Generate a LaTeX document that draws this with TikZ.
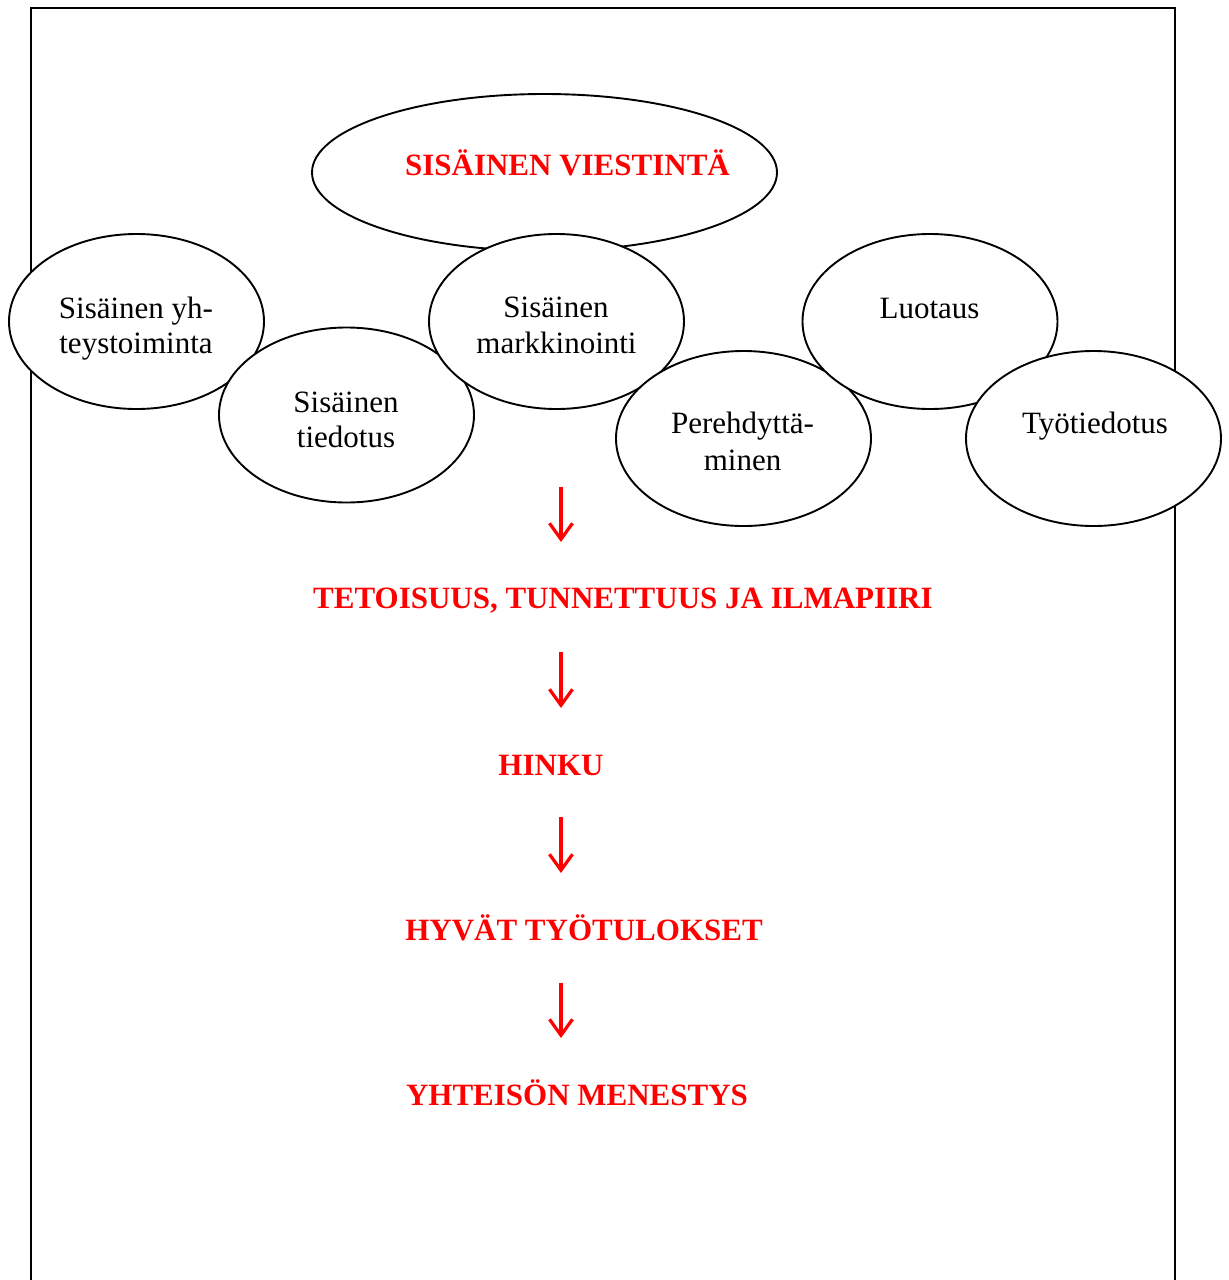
\documentclass[tikz,border=0pt]{standalone}
\usepackage{fontspec}
\setmainfont{Liberation Serif}
\usetikzlibrary{shapes.geometric,arrows.meta}
\definecolor{vred}{RGB}{255,0,0}
\begin{document}
\begin{tikzpicture}[x=1pt,y=-1pt,
  bubble/.style={ellipse, draw=black, fill=white, line width=1.9pt, inner sep=0pt},
  btxt/.style={anchor=base, font=\fontsize{31}{36}\selectfont, inner sep=0pt},
  rtxt/.style={anchor=base, text=vred, font=\fontsize{31}{36}\selectfont\bfseries, inner sep=0pt},
  flow/.style={draw=vred, line width=3.2pt, -{Straight Barb[length=16pt,width=23pt]}},
  frameline/.style={draw=black, line width=1.9pt}]
\useasboundingbox (0,0) rectangle (1229,1280);
% frame (open at the bottom edge of the picture)
\coordinate (fbl) at (31,1285);
\coordinate (ftl) at (31,8);
\coordinate (ftr) at (1175,8);
\coordinate (fbr) at (1175,1285);
\draw[frameline] (fbl) -- (ftl) -- (ftr) -- (fbr);
% bubbles
\node[bubble, minimum width=465pt, minimum height=157pt] (sv) at (544.5,172.5) {};
\node[bubble, minimum width=255pt, minimum height=175pt] (sy) at (136.5,321.5) {};
\node[bubble, minimum width=255pt, minimum height=175pt] (st) at (346.5,415) {};
\node[bubble, minimum width=255pt, minimum height=175pt] (sm) at (556.5,321.5) {};
\node[bubble, minimum width=255pt, minimum height=175pt] (pe) at (743.5,438.5) {};
\node[bubble, minimum width=255pt, minimum height=175pt] (lu) at (930,321.5) {};
\node[bubble, minimum width=255pt, minimum height=175pt] (ty) at (1093.5,438.5) {};
% bubble texts
\node[rtxt] (svt) at (567.5,175) {SISÄINEN VIESTINTÄ};
\node[btxt] (sy1) at (136,318) {Sisäinen yh-};
\node[btxt] (sy2) at (136,353) {teystoiminta};
\node[btxt] (st1) at (346,412) {Sisäinen};
\node[btxt] (st2) at (346,447) {tiedotus};
\node[btxt] (sm1) at (556,317) {Sisäinen};
\node[btxt] (sm2) at (556.5,353) {markkinointi};
\node[btxt] (pe1) at (742.5,433) {Perehdyttä-};
\node[btxt] (pe2) at (742.5,470) {minen};
\node[btxt] (lut) at (929.5,318) {Luotaus};
\node[btxt] (tyt) at (1095,433) {Työtiedotus};
% chain
\node[rtxt] (tet) at (623,608) {TETOISUUS, TUNNETTUUS JA ILMAPIIRI};
\node[rtxt] (hin) at (551,775) {HINKU};
\node[rtxt] (hyv) at (584,940) {HYVÄT TYÖTULOKSET};
\node[rtxt] (yht) at (577,1105) {YHTEISÖN MENESTYS};
\coordinate (a1s) at (561,487); \coordinate (a1e) at (561,542);
\coordinate (a2s) at (561,652); \coordinate (a2e) at (561,708);
\coordinate (a3s) at (561,817); \coordinate (a3e) at (561,873);
\coordinate (a4s) at (561,983); \coordinate (a4e) at (561,1038);
\draw[flow] (a1s) -- (a1e);
\draw[flow] (a2s) -- (a2e);
\draw[flow] (a3s) -- (a3e);
\draw[flow] (a4s) -- (a4e);
\end{tikzpicture}
\end{document}
